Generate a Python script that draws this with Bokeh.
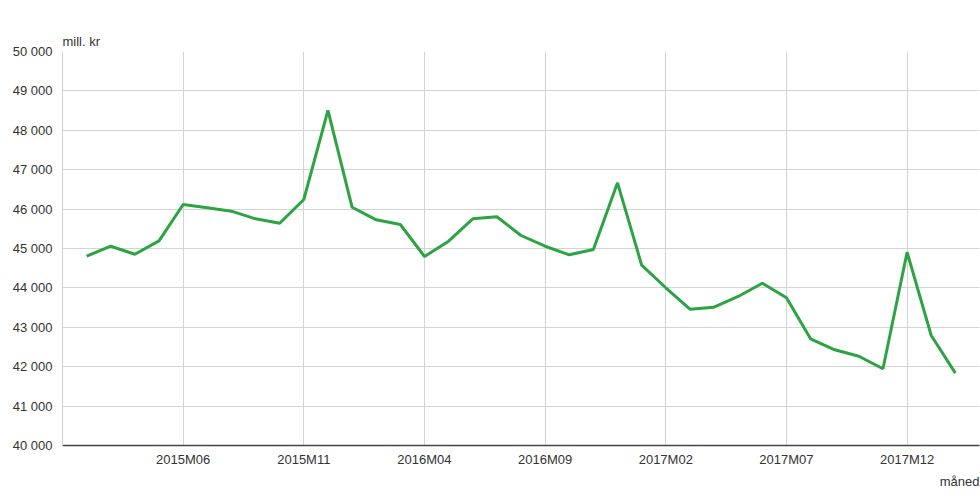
from bokeh.plotting import figure
from bokeh.models import Range1d, FixedTicker, Title
from bokeh.embed import file_html
from bokeh.resources import INLINE

months = []
for y in (2015, 2016, 2017, 2018):
    for m in range(1, 13):
        months.append(f"{y}M{m:02d}")
months = months[months.index("2015M02"):months.index("2018M02") + 1]

values = [44805, 45058, 44855, 45195, 46117, 46035, 45947, 45753, 45642, 46244,
          48503, 46048, 45728, 45609, 44797, 45185, 45753, 45805, 45330, 45058,
          44840, 44975, 46667, 44580, 44003, 43459, 43510, 43782, 44119, 43748,
          42708, 42429, 42266, 41947, 44906, 42792, 41836]

tick_labels = ["2015M06", "2015M11", "2016M04", "2016M09", "2017M02", "2017M07", "2017M12"]
y_ticks = list(range(40000, 50001, 1000))

xs = list(range(len(months)))
x_ticks = [months.index(t) for t in tick_labels]

FONT = "Liberation Sans"
TXT = "#333333"

p = figure(width=980, height=500, output_backend="svg", toolbar_location=None,
           x_range=Range1d(-1, len(months)), y_range=Range1d(40000, 50000),
           min_border_left=62, min_border_top=51, min_border_bottom=55, min_border_right=1)
p.outline_line_color = None
p.background_fill_color = "white"

p.line(xs, values, line_color="#2ca443", line_width=3)

p.xaxis.ticker = FixedTicker(ticks=x_ticks)
p.xaxis.major_label_overrides = {i: t for i, t in zip(x_ticks, tick_labels)}
p.yaxis.ticker = FixedTicker(ticks=y_ticks)
p.yaxis.major_label_overrides = {v: f"{v // 1000} 000" for v in y_ticks}

for ax in (p.xaxis, p.yaxis):
    ax.major_tick_line_color = None
    ax.minor_tick_line_color = None
    ax.major_label_text_font = FONT
    ax.major_label_text_font_size = "13px"
    ax.major_label_text_color = TXT
p.xaxis.axis_line_color = "#444444"
p.xaxis.axis_line_width = 1.5
p.xaxis.major_label_standoff = 0
p.yaxis.axis_line_color = "#d4d4d4"
p.yaxis.major_label_standoff = 4

p.xgrid.grid_line_color = "#d4d4d4"
p.ygrid.grid_line_color = "#d4d4d4"

p.add_layout(Title(text="mill. kr", align="left", text_font=FONT, text_font_size="13px",
                   text_font_style="normal", text_color=TXT, standoff=5), "above")
p.add_layout(Title(text="måned", align="right", text_font=FONT, text_font_size="13px",
                   text_font_style="normal", text_color=TXT, standoff=4), "below")

open("out.html", "w").write(file_html(p, INLINE))
